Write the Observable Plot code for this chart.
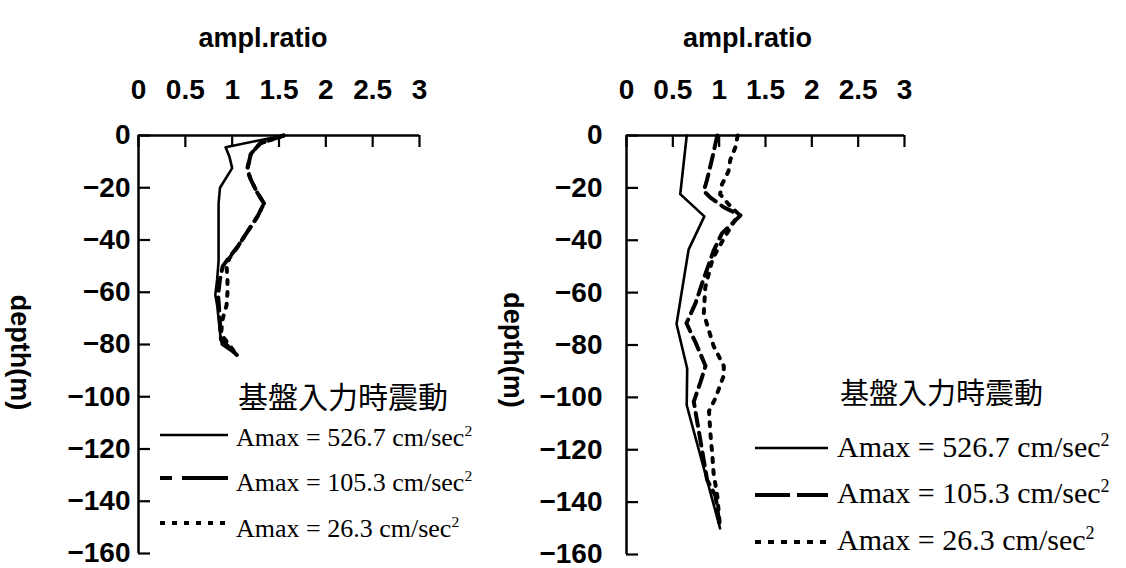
<!DOCTYPE html>
<html><head><meta charset="utf-8">
<script src="https://cdn.jsdelivr.net/npm/d3@7"></script>
<script src="https://cdn.jsdelivr.net/npm/@observablehq/plot@0.6"></script>
<style>
body{margin:0;background:#fff;}
#wrap{position:relative;width:1126px;height:568px;overflow:hidden;background:#fff;}
#wrap > svg{position:absolute;top:0;}
</style></head><body><div id="wrap"></div>
<script>
// ---- axis ticks / labels
const xTicks = [0, 0.5, 1, 1.5, 2, 2.5, 3];
const yTicks = [0, -20, -40, -60, -80, -100, -120, -140, -160];
const xTitle = "ampl.ratio";
const yTitle = "depth(m)";
const legendTitle = "基盤入力時震動";
const seriesLabels = ["Amax = 526.7 cm/sec", "Amax = 105.3 cm/sec", "Amax = 26.3 cm/sec"];

// ---- left panel
const leftSolidDepth  = [0, -2, -4.5, -8, -12.5, -20, -26, -48, -55, -61, -65, -77, -80, -84];
const leftSolidRatio  = [1.55, 1.27, 0.93, 0.97, 1.0, 0.87, 0.855, 0.855, 0.84, 0.82, 0.84, 0.875, 0.89, 1.05];
const leftDashedDepth = [0, -3, -7, -13, -17, -22, -26, -31, -37, -43, -47, -50, -55, -61, -66, -72, -78, -84];
const leftDashedRatio = [1.55, 1.3, 1.2, 1.16, 1.2, 1.27, 1.34, 1.27, 1.16, 1.05, 0.96, 0.9, 0.87, 0.85, 0.86, 0.87, 0.88, 1.05];
const leftDottedDepth = [0, -3, -7, -13, -17, -22, -26, -31, -37, -43, -47, -50, -55, -60, -65, -70, -76, -84];
const leftDottedRatio = [1.55, 1.3, 1.2, 1.16, 1.2, 1.27, 1.34, 1.27, 1.16, 1.05, 0.97, 0.94, 0.95, 0.95, 0.94, 0.9, 0.88, 1.05];

// ---- right panel
const rightSolidDepth  = [0, -22.4, -30.9, -43.6, -72, -89, -103, -150];
const rightSolidRatio  = [0.65, 0.58, 0.84, 0.67, 0.54, 0.655, 0.65, 1.01];
const rightDashedDepth = [0, -8.7, -16.8, -21.2, -23.7, -27.4, -30.5, -37.4, -44, -55, -64, -71.7, -79, -88, -94, -101.6, -112.8, -131.5, -137.6, -150];
const rightDashedRatio = [0.98, 0.925, 0.87, 0.834, 0.906, 1.05, 1.23, 1.03, 0.94, 0.83, 0.745, 0.647, 0.745, 0.853, 0.8, 0.726, 0.78, 0.87, 0.96, 1.01];
const rightDottedDepth = [0, -4.4, -9.3, -13.7, -18.7, -22.4, -26.2, -30, -40, -47, -58, -68, -80.4, -88, -91.6, -100.3, -105.3, -114, -121.5, -129, -137.7, -150];
const rightDottedRatio = [1.2, 1.176, 1.12, 1.1, 1.03, 1.01, 1.1, 1.21, 1.04, 0.93, 0.85, 0.834, 0.94, 1.05, 1.05, 0.96, 0.89, 0.906, 0.925, 0.94, 0.98, 1.01];

const zip = (d, r) => d.map((v, i) => ({depth: v, ratio: r[i]}));

const SANS = "'Liberation Sans', Arial, sans-serif";
const SERIF = "'Liberation Serif', 'Times New Roman', serif";
const CJK = "'Noto Sans CJK JP', sans-serif";
const fmtX = d => String(d);
const fmtY = d => d < 0 ? "\u2212" + (-d) : String(d);
const TICK = 12;

function panel(o) {
  const H = 568;
  const fw = o.width - o.marginLeft - o.marginRight;
  const fh = H - 135 - o.marginBottom;
  return Plot.plot({
    width: o.width, height: H,
    marginTop: 135, marginLeft: o.marginLeft, marginRight: o.marginRight, marginBottom: o.marginBottom,
    x: {domain: [0, 3]},
    y: {domain: [-160, 0]},
    style: {fontFamily: SANS, fontSize: "28px", fontWeight: "bold", color: "black", background: "transparent", overflow: "visible"},
    marks: [
      Plot.ruleY([0], {stroke: "black", strokeWidth: 2.5}),
      Plot.ruleX([0], {stroke: "black", strokeWidth: 2.5}),
      // inward ticks
      Plot.tickX(xTicks, {x: d => d, insetBottom: fh - TICK, stroke: "black", strokeWidth: 2.2}),
      Plot.tickY(yTicks, {y: d => d, insetRight: fw - TICK, stroke: "black", strokeWidth: 2.2}),
      // tick labels
      Plot.axisX({anchor: "top", ticks: xTicks, tickSize: 0, tickPadding: 37, tickFormat: fmtX, label: null}),
      Plot.axisY({anchor: "left", ticks: yTicks, tickSize: 0, tickPadding: o.yPad, tickFormat: fmtY, label: null}),
      Plot.line(o.solid, {x: "ratio", y: "depth", stroke: "black", strokeWidth: 2.6}),
      Plot.line(o.dashed, {x: "ratio", y: "depth", stroke: "black", strokeWidth: 4, strokeDasharray: "13,7"}),
      Plot.line(o.dotted, {x: "ratio", y: "depth", stroke: "black", strokeWidth: 4, strokeDasharray: "4,8"}),
      Plot.text([xTitle], {frameAnchor: "top", dy: -108, dx: o.titleDx, fontSize: 27, fontWeight: "bold"}),
      Plot.text([yTitle], {frameAnchor: "left", textAnchor: "middle", rotate: 90, dx: o.labelDx, dy: o.labelDy, fontSize: 27, fontWeight: "bold"})
    ]
  });
}

const wrap = document.getElementById("wrap");

const left = panel({
  width: 480, marginLeft: 138, marginRight: 61, marginBottom: 15, yPad: 8,
  titleDx: -16, labelDx: -119, labelDy: 8,
  solid: zip(leftSolidDepth, leftSolidRatio),
  dashed: zip(leftDashedDepth, leftDashedRatio),
  dotted: zip(leftDottedDepth, leftDottedRatio)
});
left.style.left = "0px";
wrap.appendChild(left);

const right = panel({
  width: 646, marginLeft: 146, marginRight: 222, marginBottom: 14, yPad: 24,
  titleDx: -18, labelDx: -114, labelDy: 5,
  solid: zip(rightSolidDepth, rightSolidRatio),
  dashed: zip(rightDashedDepth, rightDashedRatio),
  dotted: zip(rightDottedDepth, rightDottedRatio)
});
right.style.left = "480px";
wrap.appendChild(right);

// ---- legends (overlay)
const ov = d3.create("svg").attr("width", 1126).attr("height", 568)
  .style("position", "absolute").style("left", "0px").style("top", "0px");

const legends = [
  {tx: 238, ty: 408, tsize: 30, x1: 160, x2: 228, lx: 236, rows: [435, 478, 523], base: [446, 491, 537], fsize: 26,
   dash: [null, "12,10,46", "5,7"]},
  {tx: 840, ty: 404, tsize: 29, x1: 755, x2: 828, lx: 837, rows: [448, 495, 542], base: [457, 503, 550], fsize: 30,
   dash: [null, "35,7,40", "6,7"]}
];
const widths = [2.6, 4, 4];
for (const L of legends) {
  ov.append("text").attr("x", L.tx).attr("y", L.ty).attr("font-family", CJK).attr("font-size", L.tsize)
    .attr("fill", "black").text(legendTitle);
  seriesLabels.forEach((s, i) => {
    const ln = ov.append("line").attr("x1", L.x1).attr("x2", L.x2).attr("y1", L.rows[i]).attr("y2", L.rows[i])
      .attr("stroke", "black").attr("stroke-width", widths[i]);
    if (L.dash[i]) ln.attr("stroke-dasharray", L.dash[i]);
    const t = ov.append("text").attr("x", L.lx).attr("y", L.base[i]).attr("font-family", SERIF)
      .attr("font-size", L.fsize).attr("fill", "black");
    t.append("tspan").text(s);
    t.append("tspan").attr("dy", -L.fsize * 0.38).attr("font-size", L.fsize * 0.6).text("2");
  });
}
wrap.appendChild(ov.node());
</script>
</body></html>
